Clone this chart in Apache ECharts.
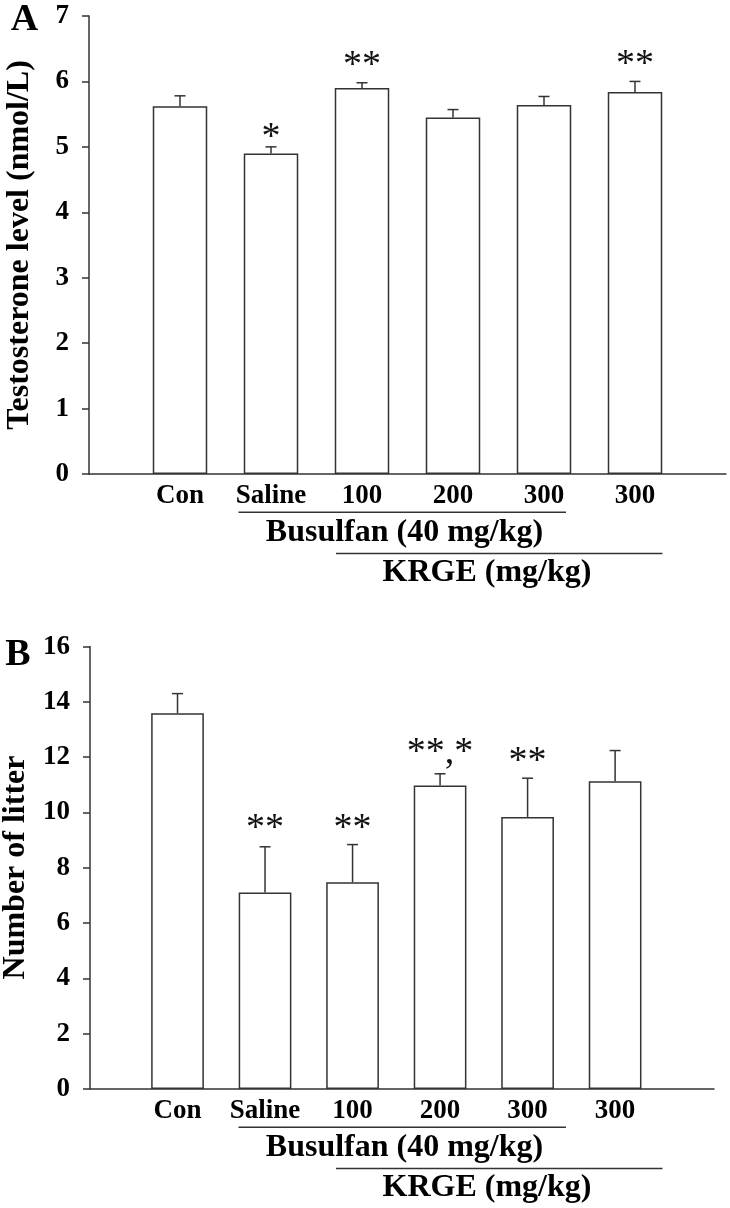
<!DOCTYPE html>
<html>
<head>
<meta charset="utf-8">
<script src="https://cdn.jsdelivr.net/npm/echarts@6/dist/echarts.min.js"></script>
<style>
html,body{margin:0;padding:0;background:#fff;}
#chart{width:730px;height:1208px;}
</style>
</head>
<body>
<div id="chart"></div>
<script>
// ---- data ----
var categories = ['Con', 'Saline', '100', '200', '300', '300'];
var positions = [1, 2, 3, 4, 5, 6];

var testoMean = [5.62, 4.90, 5.90, 5.45, 5.64, 5.84];
var testoErr  = [0.16, 0.10, 0.08, 0.12, 0.13, 0.16];
var testoStars = ['', '*', '**', '', '', '**'];
var testoStarY = [null, 5.24, 6.34, null, null, 6.35];

var litterMean = [13.59, 7.11, 7.48, 10.98, 9.84, 11.13];
var litterErr  = [0.71, 1.65, 1.36, 0.42, 1.40, 1.11];
var litterStars = ['', '**', '**', '**,*', '**', ''];
var litterStarY = [null, 9.64, 9.64, 12.39, 12.08, null];

var testoTicks = [0, 1, 2, 3, 4, 5, 6, 7];
var litterTicks = [0, 2, 4, 6, 8, 10, 12, 14, 16];

var FONT = 'Liberation Serif, Times New Roman, serif';
var INK = '#333333';
var STAR_SIZE = 38;

function pairs(ys) { return positions.map(function (p, i) { return [p, ys[i]]; }); }
function errData(m, e) { return positions.map(function (p, i) { return [p, m[i], e[i]]; }); }
function starData(s, y) {
  var out = [];
  positions.forEach(function (p, i) { if (s[i]) out.push([p, y[i], s[i]]); });
  return out;
}

function errRender(params, api) {
  var x = api.value(0), m = api.value(1), e = api.value(2);
  var base = api.coord([x, m]);
  var top = api.coord([x, m + e]);
  return {
    type: 'group',
    children: [
      { type: 'line', shape: { x1: top[0], y1: base[1], x2: top[0], y2: top[1] }, style: { stroke: INK, lineWidth: 1.5 } },
      { type: 'line', shape: { x1: top[0] - 5.5, y1: top[1], x2: top[0] + 5.5, y2: top[1] }, style: { stroke: INK, lineWidth: 1.5 } }
    ]
  };
}
function starRender(params, api) {
  var p = api.coord([api.value(0), api.value(1)]);
  return {
    type: 'text',
    x: p[0], y: p[1] + STAR_SIZE * 0.18,
    style: { text: api.value(2), font: 'normal ' + STAR_SIZE + 'px ' + FONT, fill: '#111', align: 'center', verticalAlign: 'middle' }
  };
}

function xAxisFor(gridIndex, max) {
  return {
    type: 'value', gridIndex: gridIndex, min: 0, max: max, interval: 1,
    splitLine: { show: false },
    axisLine: { show: true, lineStyle: { color: INK, width: 1.5 } },
    axisTick: { show: false },
    axisLabel: {
      show: true, margin: 9, color: '#000', fontFamily: FONT, fontWeight: 'bold', fontSize: 27,
      showMinLabel: true, showMaxLabel: true,
      formatter: function (v) { var i = positions.indexOf(v); return i >= 0 ? categories[i] : ''; }
    }
  };
}
function yAxisFor(gridIndex, max, interval) {
  return {
    type: 'value', gridIndex: gridIndex, min: 0, max: max, interval: interval,
    splitLine: { show: false },
    axisLine: { show: true, lineStyle: { color: INK, width: 1.5 } },
    axisTick: { show: true, inside: false, length: 7, lineStyle: { color: INK, width: 1.5 } },
    axisLabel: { margin: 20, color: '#000', fontFamily: FONT, fontWeight: 'bold', fontSize: 27 }
  };
}

function groupGraphics(axisY) {
  var txt = function (x, y, t, size) {
    return { type: 'text', x: x, y: y, style: { text: t, font: 'bold ' + size + 'px ' + FONT, fill: '#000', align: 'center', verticalAlign: 'middle' } };
  };
  var ln = function (x1, x2, y) {
    return { type: 'line', shape: { x1: x1, y1: y, x2: x2, y2: y }, style: { stroke: INK, lineWidth: 1.5 } };
  };
  return [
    ln(238.5, 566, axisY + 38.3),
    txt(404.5, axisY + 59, 'Busulfan (40 mg/kg)', 32),
    ln(336, 662.5, axisY + 79.5),
    txt(487, axisY + 99, 'KRGE (mg/kg)', 32)
  ];
}

var chart = echarts.init(document.getElementById('chart'), null, { renderer: 'canvas' });
var option = {
  animation: false,
  backgroundColor: '#fff',
  grid: [
    { left: 89, right: 4, top: 16, height: 458 },
    { left: 90, right: 16, top: 646.6, height: 442.4 }
  ],
  xAxis: [xAxisFor(0, 7), xAxisFor(1, 7.13)],
  yAxis: [yAxisFor(0, 7, 1), yAxisFor(1, 16, 2)],
  series: [
    { type: 'bar', xAxisIndex: 0, yAxisIndex: 0, barWidth: 54.5, data: pairs(testoMean),
      itemStyle: { color: '#fff', borderColor: INK, borderWidth: 1.5 } },
    { type: 'custom', xAxisIndex: 0, yAxisIndex: 0, data: errData(testoMean, testoErr), renderItem: errRender, z: 3 },
    { type: 'custom', xAxisIndex: 0, yAxisIndex: 0, data: starData(testoStars, testoStarY), renderItem: starRender, z: 4 },
    { type: 'bar', xAxisIndex: 1, yAxisIndex: 1, barWidth: 52.7, data: pairs(litterMean),
      itemStyle: { color: '#fff', borderColor: INK, borderWidth: 1.5 } },
    { type: 'custom', xAxisIndex: 1, yAxisIndex: 1, data: errData(litterMean, litterErr), renderItem: errRender, z: 3 },
    { type: 'custom', xAxisIndex: 1, yAxisIndex: 1, data: starData(litterStars, litterStarY), renderItem: starRender, z: 4 }
  ],
  graphic: [
    { type: 'text', x: 24.5, y: 20, style: { text: 'A', font: 'bold 38px ' + FONT, fill: '#000', align: 'center', verticalAlign: 'middle' } },
    { type: 'text', x: 18, y: 655, style: { text: 'B', font: 'bold 38px ' + FONT, fill: '#000', align: 'center', verticalAlign: 'middle' } },
    { type: 'text', x: 20, y: 245, rotation: Math.PI / 2,
      style: { text: 'Testosterone level (nmol/L)', font: 'bold 32px ' + FONT, fill: '#000', align: 'center', verticalAlign: 'middle' } },
    { type: 'text', x: 16, y: 867.5, rotation: Math.PI / 2,
      style: { text: 'Number of litter', font: 'bold 32px ' + FONT, fill: '#000', align: 'center', verticalAlign: 'middle' } }
  ].concat(groupGraphics(474)).concat(groupGraphics(1089))
};
chart.setOption(option);
</script>
</body>
</html>
